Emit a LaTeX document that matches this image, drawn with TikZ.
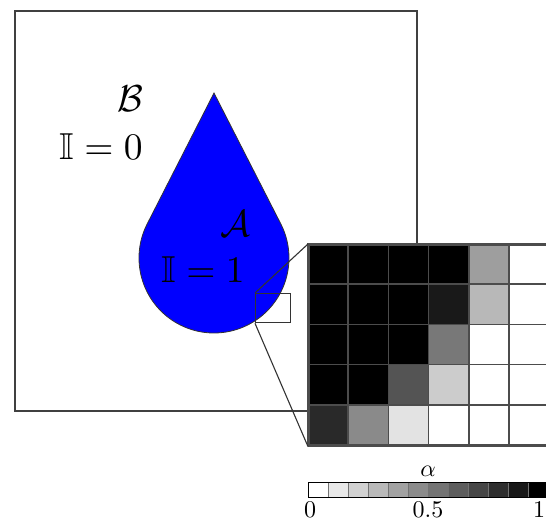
\documentclass[tikz,border=0pt]{standalone}
\usepackage{amssymb}
\begin{document}
\begin{tikzpicture}[x=1pt,y=1pt,
  frame/.style={draw=black!75, line width=1.8pt, inner sep=0pt},
  big/.style={font=\normalsize, scale=3.75, inner sep=0pt},
  small/.style={font=\normalsize, scale=2.4, inner sep=0pt},
  link/.style={draw=black!80, line width=1.1pt},
  cellline/.style={draw=black!70, line width=1.6pt},
  barline/.style={draw=black!55, line width=0.8pt},
]
\useasboundingbox (0,0) rectangle (546,-522);
\clip (0,0) rectangle (546,-522);
% domain
\node[frame, minimum width=402pt, minimum height=400pt, anchor=north west] (domain) at (14,-10) {};
% droplet
\draw[fill=blue, draw=black!80, line width=0.8pt] (214,-93) -- (147.2,-223.9)
  arc[start angle=152.96, end angle=387.04, radius=75] -- cycle;
\node[big] (B) at (130,-99) {$\mathcal{B}$};
\node[big] (I0) at (101,-147) {$\mathbb{I}=0$};
\node[big] (A) at (235,-224) {$\mathcal{A}$};
\node[big] (I1) at (203,-270) {$\mathbb{I}=1$};
% zoom window
\node[draw=black!80, line width=1.3pt, minimum width=35pt, minimum height=29pt, inner sep=0pt, anchor=north west] (zoom) at (255,-293) {};
% grid cells
\foreach \r/\vals in {0/{100,100,100,100,38,0},1/{100,100,100,90,28,0},2/{100,100,100,53,0,0},3/{100,100,67,20,0,0},4/{84,46,11,0,0,0}}{
  \foreach \v [count=\c from 0] in \vals {
    \fill[black!\v] (308+40.2*\c,-244-40.2*\r) rectangle ++(40.2,-40.2);
    \draw[cellline] (308+40.2*\c,-244-40.2*\r) rectangle ++(40.2,-40.2);
  }
}
\node[draw=black!70, line width=1.6pt, minimum width=241.2pt, minimum height=201pt, inner sep=0pt, anchor=north west] (grid) at (308,-244) {};
\draw[link] (zoom.north west) -- (grid.north west);
\draw[link] (zoom.south west) -- (grid.south west);
% colour bar
\foreach \i in {0,...,11}{
  \pgfmathsetmacro{\lv}{100*\i/11}
  \fill[black!\lv] (308+20*\i,-482) rectangle ++(20,-15);
  \draw[barline] (308+20*\i,-482) rectangle ++(20,-15);
}
\node[draw=black, line width=1.4pt, minimum width=240pt, minimum height=15pt, inner sep=0pt, anchor=north west] (bar) at (308,-482) {};
\node[small] (alpha) at (428,-471) {$\alpha$};
\node[small] (l0) at (310,-510) {$0$};
\node[small] (l5) at (428,-510) {$0.5$};
\node[small, anchor=east] (l1) at (545.5,-510) {$1$};
\end{tikzpicture}
\end{document}
